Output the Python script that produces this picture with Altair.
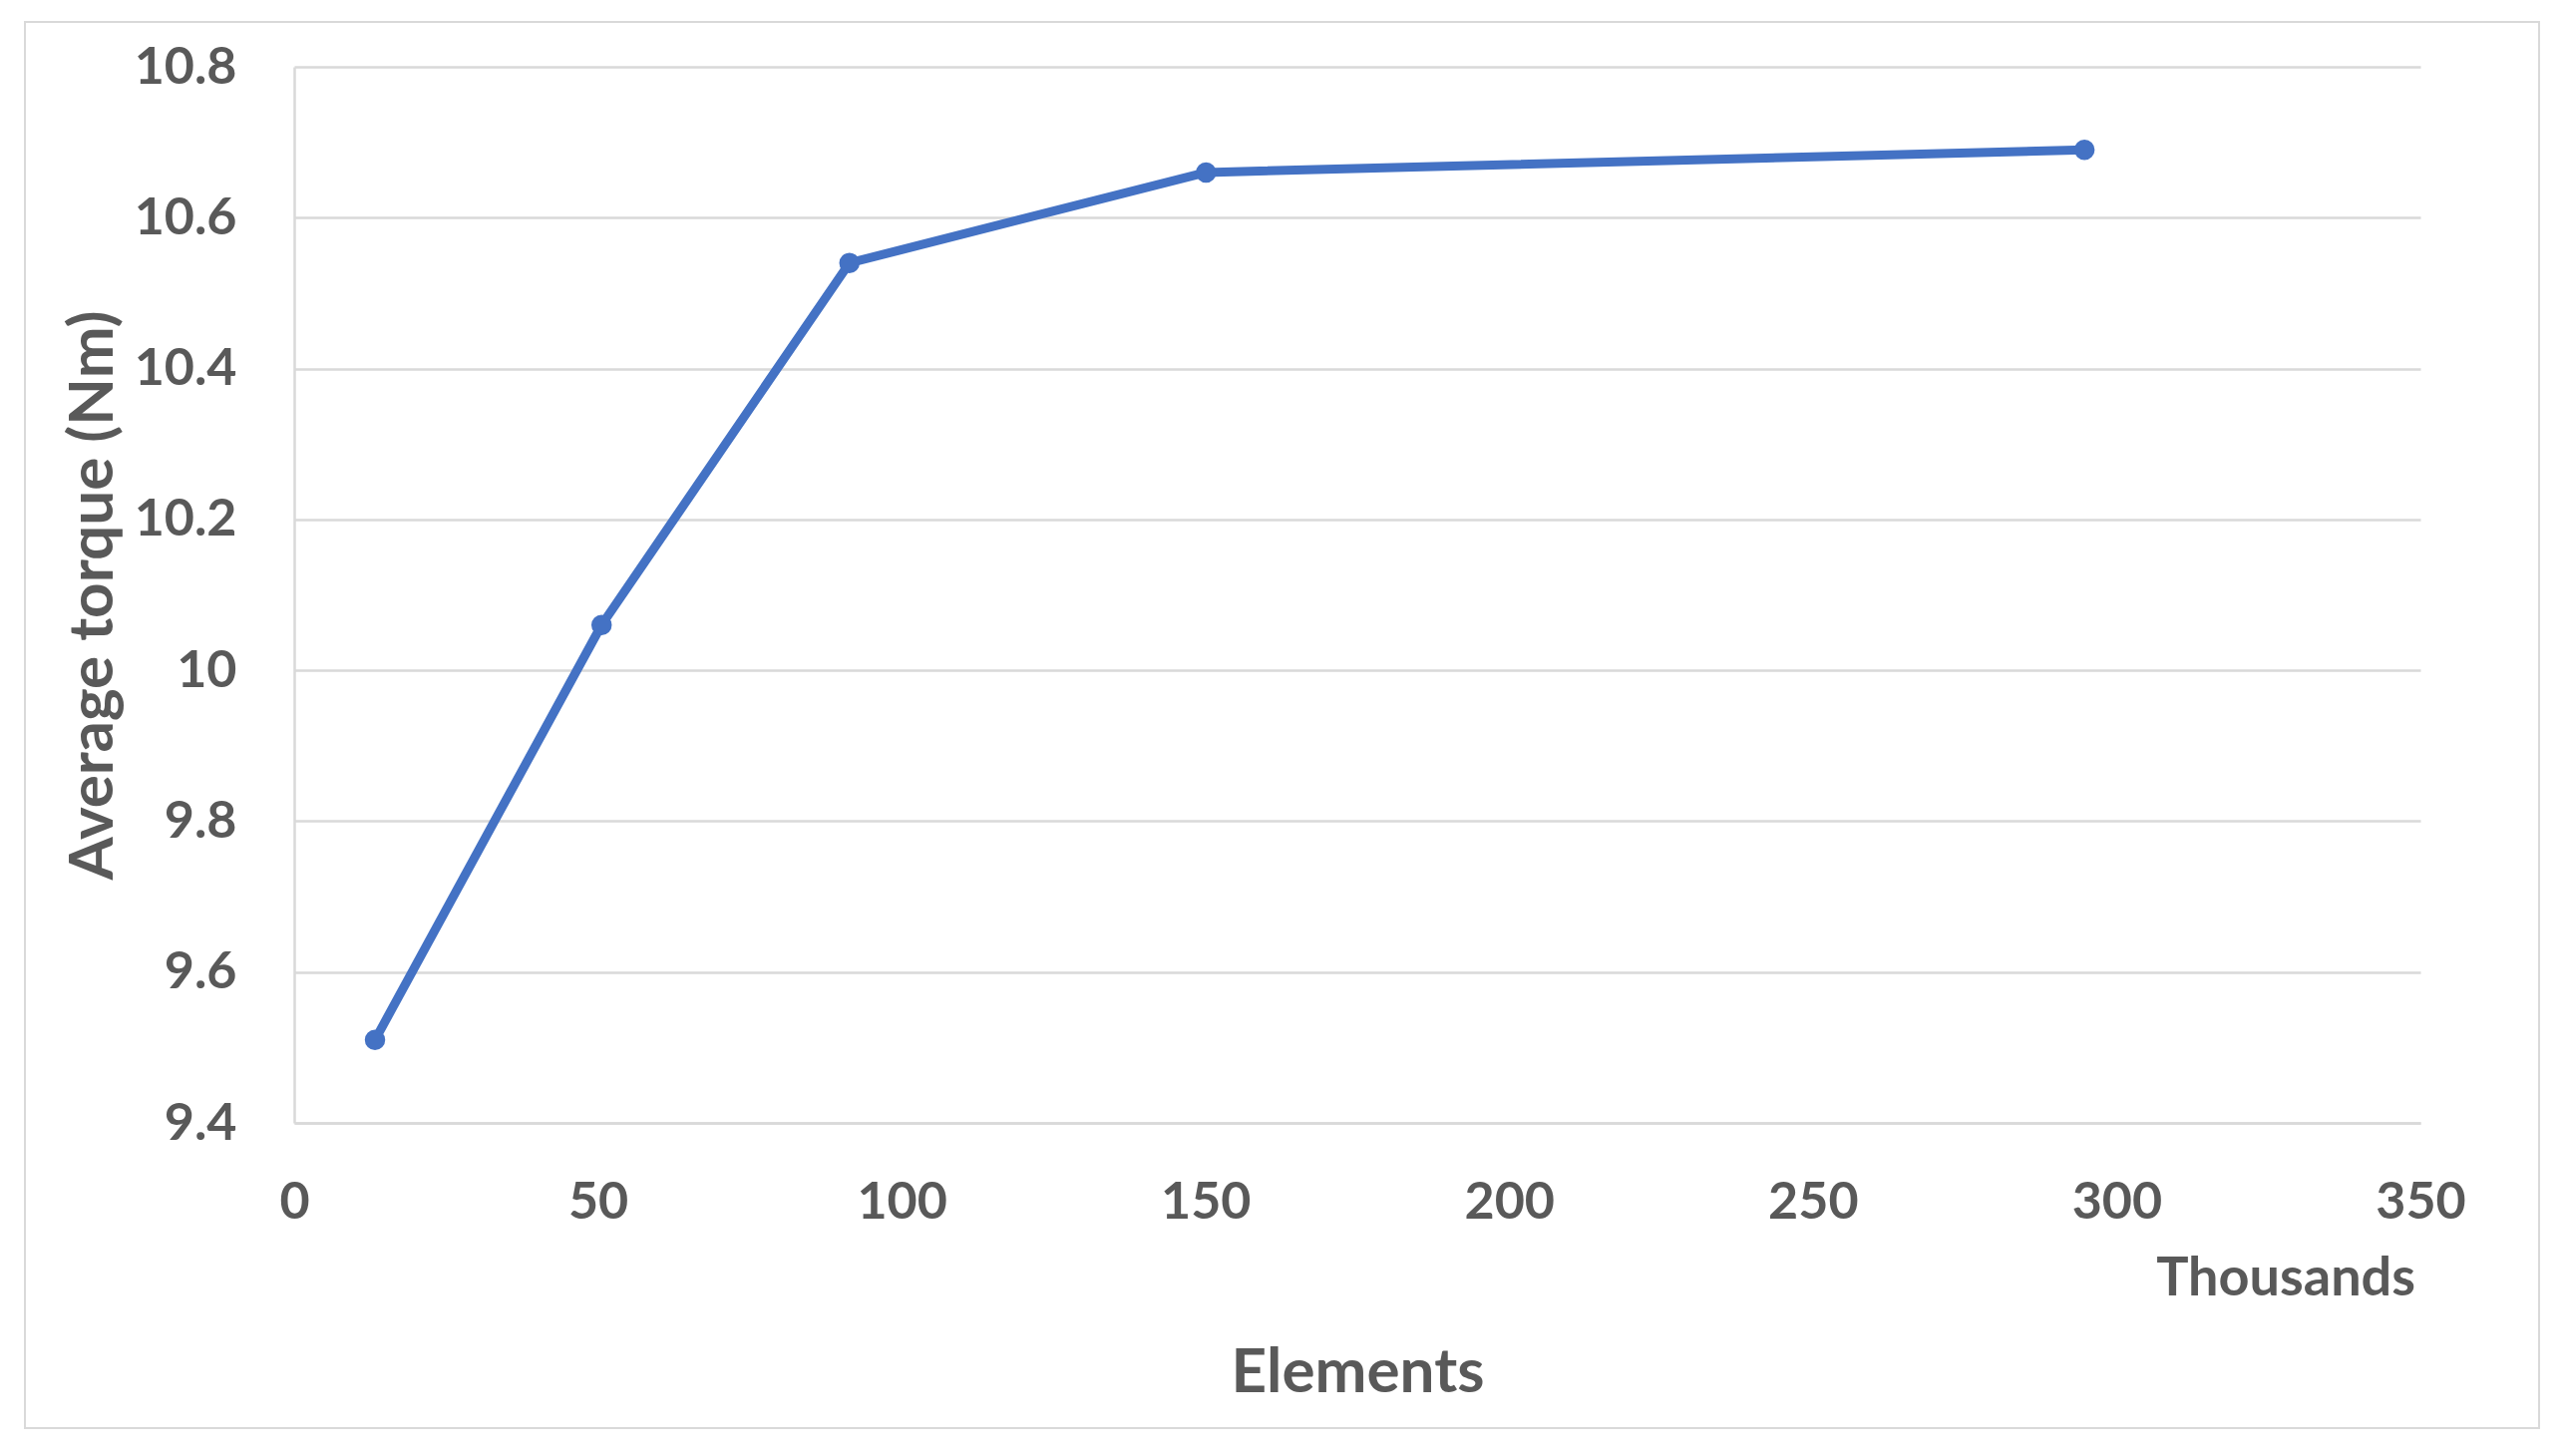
import altair as alt
import pandas as pd

# Data
elements_thousands = [13.3, 50.6, 91.4, 150.1, 294.7]
avg_torque = [9.51, 10.06, 10.54, 10.66, 10.69]

x_ticks = [0, 50, 100, 150, 200, 250, 300, 350]
y_ticks = [9.4, 9.6, 9.8, 10.0, 10.2, 10.4, 10.6, 10.8]

x_title = "Elements"
x_unit_label = "Thousands"
y_title = "Average torque (Nm)"

df = pd.DataFrame({"x": elements_thousands, "y": avg_torque})

FONT = "Lato"
TXT = "#595959"
GRID = "#d9d9d9"
BLUE = "#4472C4"

W, H = 2132, 1059

x_enc = alt.X(
    "x:Q",
    scale=alt.Scale(domain=[0, 350], nice=False, zero=False),
    axis=alt.Axis(
        values=x_ticks,
        title=x_title,
        grid=False,
        ticks=False,
        tickSize=0,
        domain=True,
        domainColor=GRID,
        domainWidth=2.5,
        labelFont=FONT,
        labelFontWeight="bold",
        labelFontSize=52,
        labelColor=TXT,
        labelBaseline="middle",
        labelPadding=79,
        labelFlush=False,
        labelOverlap=False,
        titleFont=FONT,
        titleFontWeight="bold",
        titleFontSize=62,
        titleColor=TXT,
        titleBaseline="middle",
        titleY=250,
    ),
)
y_enc = alt.Y(
    "y:Q",
    scale=alt.Scale(domain=[9.4, 10.8], nice=False, zero=False),
    axis=alt.Axis(
        values=y_ticks,
        format=".3~g",
        title=y_title,
        grid=True,
        gridColor=GRID,
        gridWidth=2.5,
        ticks=False,
        tickSize=0,
        domain=True,
        domainColor=GRID,
        domainWidth=2.5,
        labelFont=FONT,
        labelFontWeight="bold",
        labelFontSize=52,
        labelColor=TXT,
        labelPadding=58,
        labelFlush=False,
        labelOverlap=False,
        titleFont=FONT,
        titleFontWeight="bold",
        titleFontSize=62,
        titleColor=TXT,
        titleAngle=-90,
        titleBaseline="middle",
        titleX=-202,
    ),
)

line = alt.Chart(df).mark_line(
    color=BLUE, strokeWidth=9, strokeJoin="round", strokeCap="round",
    point=alt.OverlayMarkDef(filled=True, color=BLUE, size=420, opacity=1),
).encode(x=x_enc, y=y_enc)

one = alt.Data(values=[{"t": x_unit_label}])

frame = alt.Chart(one).mark_rect(
    fill=None, fillOpacity=0, stroke=GRID, strokeWidth=2
).encode(
    x=alt.value(25 - 295), x2=alt.value(2546 - 295),
    y=alt.value(22 - 67), y2=alt.value(1432 - 67),
)

unit = alt.Chart(one).mark_text(
    font=FONT, fontWeight="bold", fontSize=54, color=TXT,
    align="right", baseline="middle",
).encode(
    text="t:N",
    x=alt.value(2127),
    y=alt.value(1216),
)

chart = alt.layer(frame, line, unit).properties(
    width=W,
    height=H,
    autosize=alt.AutoSizeParams(type="none"),
    padding={"left": 287, "top": 59, "right": 140, "bottom": 318},
    background="white",
).configure_view(stroke=None)

chart.save("out.html", embed_options={"renderer": "svg", "actions": False})
